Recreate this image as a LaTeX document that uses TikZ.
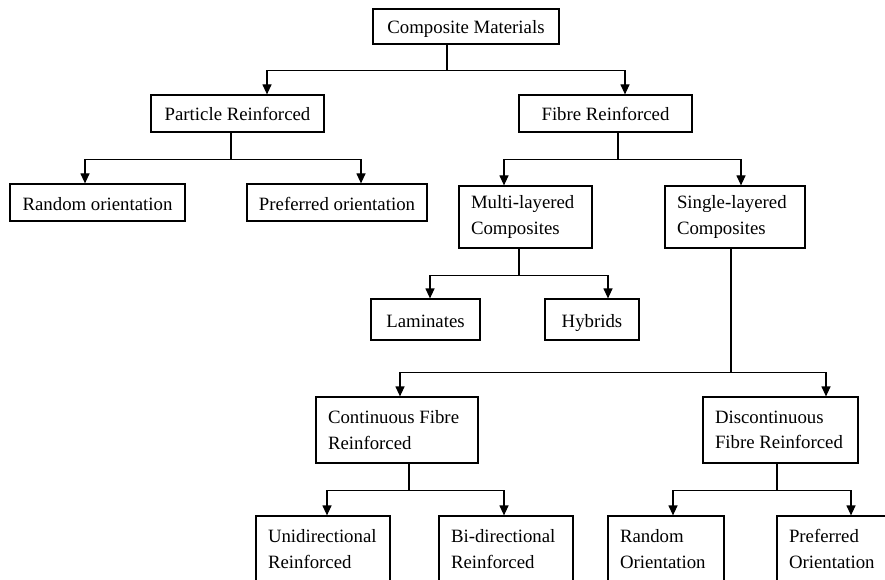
\documentclass[tikz,border=0pt]{standalone}
\usepackage{fontspec}
\setmainfont{Liberation Serif}
\usetikzlibrary{arrows.meta}
\begin{document}
\begin{tikzpicture}[x=1pt, y=-1pt,
    box/.style={draw, line width=1.2pt, inner sep=0pt, align=center,
      font=\fontsize{18.8}{25.5}\selectfont},
    oneline/.style={box, text height=16pt, text depth=1pt},
    twoline/.style={box, align=flush left, text width=#1, inner xsep=12pt},
    link/.style={line width=1.2pt, -{Triangle[length=10pt,width=9pt]}}]
      \clip (0,0) rectangle (885,580);
      \node[oneline, minimum width=186, minimum height=35] (comp) at (466,26.5) {Composite Materials};
      \node[oneline, minimum width=173, minimum height=37] (part) at (237.5,113.5) {Particle Reinforced};
      \node[oneline, minimum width=173, minimum height=37] (fib) at (605.5,113.5) {Fibre Reinforced};
      \node[oneline, minimum width=175, minimum height=37] (rand) at (97.5,202.5) {Random orientation};
      \node[oneline, minimum width=180, minimum height=37] (pref) at (337,202.5) {Preferred orientation};
      \node[twoline=109, minimum height=62] (multi) at (525.5,217) {Multi-layered\\Composites};
      \node[twoline=116, minimum height=62] (single) at (735,217) {Single-layered\\Composites};
      \node[oneline, minimum width=109, minimum height=41] (lam) at (425.5,319.5) {Laminates};
      \node[oneline, minimum width=94, minimum height=41] (hyb) at (592,319.5) {Hybrids};
      \node[twoline=138, minimum height=66] (cont) at (397,430) {Continuous Fibre\\Reinforced};
      \node[twoline=131, minimum height=66] (disc) at (780.5,430) {Discontinuous\\Fibre Reinforced};
      \node[twoline=110, minimum height=66] (uni) at (323,549) {Unidirectional\\Reinforced};
      \node[twoline=110, minimum height=66] (bi) at (506,549) {Bi-directional\\Reinforced};
      \node[twoline=92, minimum height=66] (rnd) at (666,549) {Random\\Orientation};
      \node[twoline=94, minimum height=66] (prf) at (836,549) {Preferred\\Orientation};
      % first level
      \draw[link] ([xshift=-19pt]comp.south) -- ++(0,26) -| ([xshift=29.5pt]part.north);
      \draw[link] ([xshift=-19pt]comp.south) -- ++(0,26) -| ([xshift=19.5pt]fib.north);
      % particle and fibre
      \draw[link] ([xshift=-6.5pt]part.south) -- ++(0,27) -| ([xshift=-12.5pt]rand.north);
      \draw[link] ([xshift=-6.5pt]part.south) -- ++(0,27) -| ([xshift=24pt]pref.north);
      \draw[link] ([xshift=12.5pt]fib.south) -- ++(0,27) -| ([xshift=-21.5pt]multi.north);
      \draw[link] ([xshift=12.5pt]fib.south) -- ++(0,27) -| ([xshift=6pt]single.north);
      % layered
      \draw[link] ([xshift=-6.5pt]multi.south) -- ++(0,27) -| ([xshift=4.5pt]lam.north);
      \draw[link] ([xshift=-6.5pt]multi.south) -- ++(0,27) -| ([xshift=16pt]hyb.north);
      \draw[link] ([xshift=-4pt]single.south) -- ++(0,124) -| ([xshift=3pt]cont.north);
      \draw[link] ([xshift=-4pt]single.south) -- ++(0,124) -| ([xshift=45.5pt]disc.north);
      % fibre length
      \draw[link] ([xshift=12pt]cont.south) -- ++(0,27) -| ([xshift=4pt]uni.north);
      \draw[link] ([xshift=12pt]cont.south) -- ++(0,27) -| ([xshift=-2pt]bi.north);
      \draw[link] ([xshift=-3.5pt]disc.south) -- ++(0,27) -| ([xshift=7pt]rnd.north);
      \draw[link] ([xshift=-3.5pt]disc.south) -- ++(0,27) -| ([xshift=15pt]prf.north);
\end{tikzpicture}
\end{document}
